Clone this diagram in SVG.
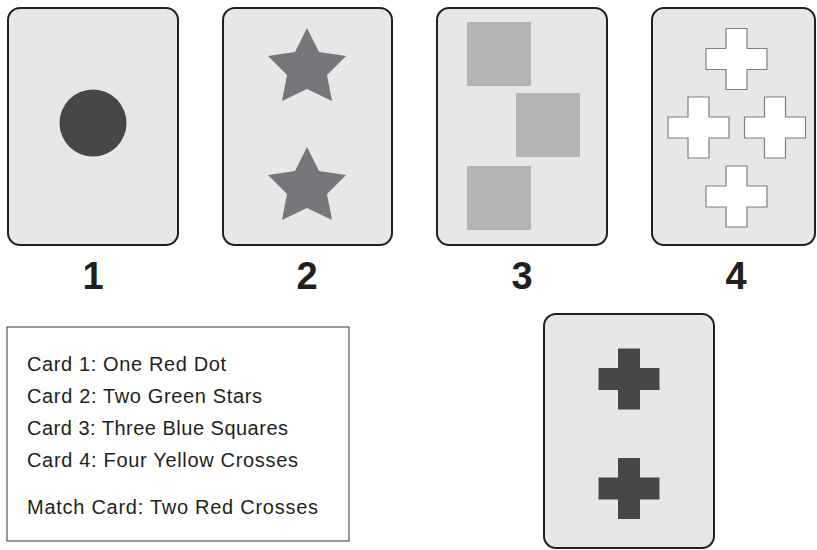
<svg xmlns="http://www.w3.org/2000/svg" xmlns:xlink="http://www.w3.org/1999/xlink" width="817" height="550" viewBox="0 0 817 550">
<style>
.card{fill:#e6e7e7;stroke:#231f20;stroke-width:2}
.num{font-family:"Liberation Sans",Arial,sans-serif;font-weight:bold;font-size:38px;fill:#231f20;text-anchor:middle}
.txt{font-family:"Liberation Sans",Arial,sans-serif;font-size:20px;fill:#231f20}
.wcross{fill:#ffffff;stroke:#808080;stroke-width:1.2}
.dcross{fill:#474747}
.sq{fill:#b3b4b5}
.star{fill:#76777a}
</style>
<defs>
<path id="wc" d="M-10.5,-30.5 H10.5 V-10.5 H30.5 V10.5 H10.5 V30.5 H-10.5 V10.5 H-30.5 V-10.5 H-10.5 Z"/>
<path id="dc" d="M-11,-30.5 H11 V-11 H30.5 V11 H11 V30.5 H-11 V11 H-30.5 V-11 H-11 Z"/>
<path id="st" d="M0,-35 L12,-11 L39,-7 L20,12 L25,38 L0,26 L-25,38 L-20,12 L-39,-7 L-12,-11 Z"/>
</defs>
<g id="card1">
<rect class="card" x="8" y="8" width="170" height="237" rx="12"/>
<circle cx="93" cy="123" r="33.5" fill="#474747"/>
<text class="num" x="93" y="289">1</text>
</g>
<g id="card2">
<rect class="card" x="223" y="8" width="169" height="237" rx="12"/>
<use xlink:href="#st" class="star" x="307" y="63"/>
<use xlink:href="#st" class="star" x="307" y="182"/>
<text class="num" x="307" y="289">2</text>
</g>
<g id="card3">
<rect class="card" x="437" y="8" width="170" height="237" rx="12"/>
<rect class="sq" x="467" y="22" width="64" height="64"/>
<rect class="sq" x="516" y="93" width="64" height="64"/>
<rect class="sq" x="467" y="166" width="64" height="64"/>
<text class="num" x="522" y="289">3</text>
</g>
<g id="card4">
<rect class="card" x="652" y="8" width="163" height="237" rx="12"/>
<use xlink:href="#wc" class="wcross" x="736.5" y="59"/>
<use xlink:href="#wc" class="wcross" x="698.5" y="127.5"/>
<use xlink:href="#wc" class="wcross" x="775" y="127.5"/>
<use xlink:href="#wc" class="wcross" x="736.5" y="196.5"/>
<text class="num" x="736" y="289">4</text>
</g>
<g id="legend">
<rect x="7" y="327" width="342" height="214" fill="#ffffff" stroke="#333333" stroke-width="1"/>
<text class="txt" x="27" y="371" textLength="199" lengthAdjust="spacing">Card 1: One Red Dot</text>
<text class="txt" x="27" y="403" textLength="235" lengthAdjust="spacing">Card 2: Two Green Stars</text>
<text class="txt" x="27" y="435" textLength="261" lengthAdjust="spacing">Card 3: Three Blue Squares</text>
<text class="txt" x="27" y="467" textLength="271" lengthAdjust="spacing">Card 4: Four Yellow Crosses</text>
<text class="txt" x="27" y="514" textLength="291" lengthAdjust="spacing">Match Card: Two Red Crosses</text>
</g>
<g id="match-card">
<rect class="card" x="544" y="314" width="170" height="234" rx="12"/>
<use xlink:href="#dc" class="dcross" x="629" y="379"/>
<use xlink:href="#dc" class="dcross" x="629" y="488.5"/>
</g>
</svg>
